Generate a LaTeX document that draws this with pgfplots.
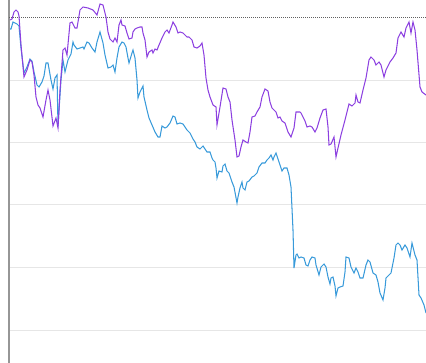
\documentclass[border=0pt]{standalone}
\usepackage{pgfplots}
\pgfplotsset{compat=1.18}
\definecolor{cpurple}{RGB}{140,64,224}
\definecolor{cblue}{RGB}{56,154,218}
\definecolor{cgrid}{RGB}{230,230,230}
\definecolor{caxis}{RGB}{150,150,150}
\begin{document}
\begin{tikzpicture}
\begin{axis}[
  scale only axis,
  width=417pt, height=363pt,
  xmin=9, xmax=426, ymin=0, ymax=363,
  y dir=reverse,
  axis x line=none,
  axis y line*=left,
  y axis line style={caxis, line width=1.3pt},
  xtick=\empty,
  ytick={80,142,204,267,330},
  yticklabels={},
  major tick length=0pt,
  ymajorgrids,
  grid style={cgrid, line width=0.9pt},
  clip=true,
]
\coordinate (sw) at (rel axis cs:0,1);
\coordinate (ne) at (rel axis cs:1,0);
\addplot[gray!75!black, dash pattern=on 1pt off 1pt, line width=0.8pt] coordinates {(9,17.3) (426,17.3)};
\addplot[cblue, line width=1.05pt] coordinates {
(10,29)(11,29)(13,22)(17,24)(19,26)(21,48)(24,73)(27,67)(30,59)(32,61)(34,72)(37,85)(39,87)(42,82)(44,76)(46,63)(48,63)(51,80)(53,89)(55,78)(57,75)(58,126)(61,80)(63,60)(65,72)(68,60)(71,54)(73,42)(74,45)(77,49)(80,48)(83,47)(84,49)(87,42)(89,43)(92,48)(95,52)(97,42)(100,32)(103,43)(105,55)(108,68)(111,67)(113,65)(115,72)(117,58)(119,47)(122,42)(124,43)(126,47)(128,58)(129,63)(132,53)(133,50)(135,58)(137,80)(138,98)(140,92)(143,86)(144,97)(147,110)(149,118)(152,125)(155,132)(158,137)(160,137)(162,126)(165,128)(167,127)(170,123)(173,116)(175,117)(177,124)(180,123)(183,124)(185,127)(187,130)(190,133)(193,139)(195,142)(197,147)(200,149)(203,146)(205,149)(207,152)(210,152)(212,158)(213,160)(215,162)(216,168)(217,178)(219,171)(222,172)(223,166)(225,164)(227,171)(229,173)(232,182)(234,187)(237,203)(238,197)(240,188)(242,182)(243,188)(245,190)(247,182)(249,181)(252,177)(254,176)(257,173)(259,167)(262,163)(265,163)(267,160)(269,158)(271,155)(273,160)(274,157)(276,153)(278,159)(280,165)(282,171)(284,168)(287,168)(289,175)(291,187)(293,230)(294,268)(296,255)(297,254)(299,258)(301,257)(304,258)(306,265)(308,266)(310,260)(312,257)(315,258)(316,265)(319,275)(321,267)(324,264)(326,267)(328,277)(330,284)(331,278)(333,277)(335,286)(336,296)(338,288)(340,287)(343,286)(345,272)(346,257)(349,258)(351,267)(354,273)(356,268)(358,272)(360,278)(363,278)(366,265)(368,260)(370,262)(373,273)(376,275)(378,282)(380,293)(383,300)(385,288)(386,278)(389,275)(391,273)(394,258)(396,245)(398,243)(400,245)(402,250)(405,245)(407,248)(410,257)(412,243)(415,255)(417,260)(419,295)(421,298)(424,305)(426,313)
};
\addplot[cpurple, line width=1.05pt] coordinates {
(10,20)(12,19)(14,12)(16,10)(18,12)(19,16)(21,45)(24,77)(27,70)(30,60)(32,62)(34,75)(36,97)(38,105)(40,108)(43,117)(46,100)(48,90)(50,100)(53,126)(56,118)(58,128)(60,90)(63,50)(65,48)(67,55)(70,23)(72,22)(75,28)(77,28)(80,10)(83,7)(88,8)(93,10)(97,15)(100,4)(103,5)(106,17)(108,32)(110,39)(113,42)(115,38)(117,42)(119,25)(121,20)(122,25)(125,26)(127,33)(129,39)(132,38)(133,32)(135,29)(137,28)(140,27)(142,27)(143,33)(145,40)(147,57)(149,52)(152,50)(153,53)(155,49)(157,50)(159,45)(162,38)(165,32)(167,30)(169,33)(172,25)(173,22)(176,27)(178,33)(180,32)(183,33)(185,35)(187,37)(189,37)(192,40)(194,47)(197,48)(200,46)(202,43)(204,55)(206,78)(208,90)(210,97)(213,105)(216,107)(217,125)(220,107)(223,88)(226,89)(228,97)(230,102)(232,120)(235,140)(237,157)(239,156)(241,147)(243,140)(246,142)(248,143)(250,132)(252,117)(255,116)(257,112)(260,107)(262,97)(265,89)(268,91)(270,102)(272,108)(276,112)(278,118)(280,117)(282,121)(285,123)(288,132)(291,137)(294,128)(296,112)(300,112)(301,113)(305,121)(307,127)(310,126)(312,127)(315,132)(317,128)(320,118)(323,110)(326,109)(328,127)(329,145)(331,144)(334,137)(336,157)(338,148)(341,135)(345,120)(349,104)(352,106)(355,103)(356,95)(358,102)(360,103)(363,90)(366,78)(369,60)(371,57)(374,60)(376,65)(379,62)(381,65)(384,77)(386,70)(390,62)(393,58)(396,53)(398,38)(401,32)(404,37)(406,28)(409,22)(411,33)(413,22)(415,30)(417,50)(420,87)(422,92)(426,95)
};
\end{axis}
\pgfresetboundingbox
\path ([xshift=-9pt]sw) rectangle (ne);
\end{tikzpicture}
\end{document}
